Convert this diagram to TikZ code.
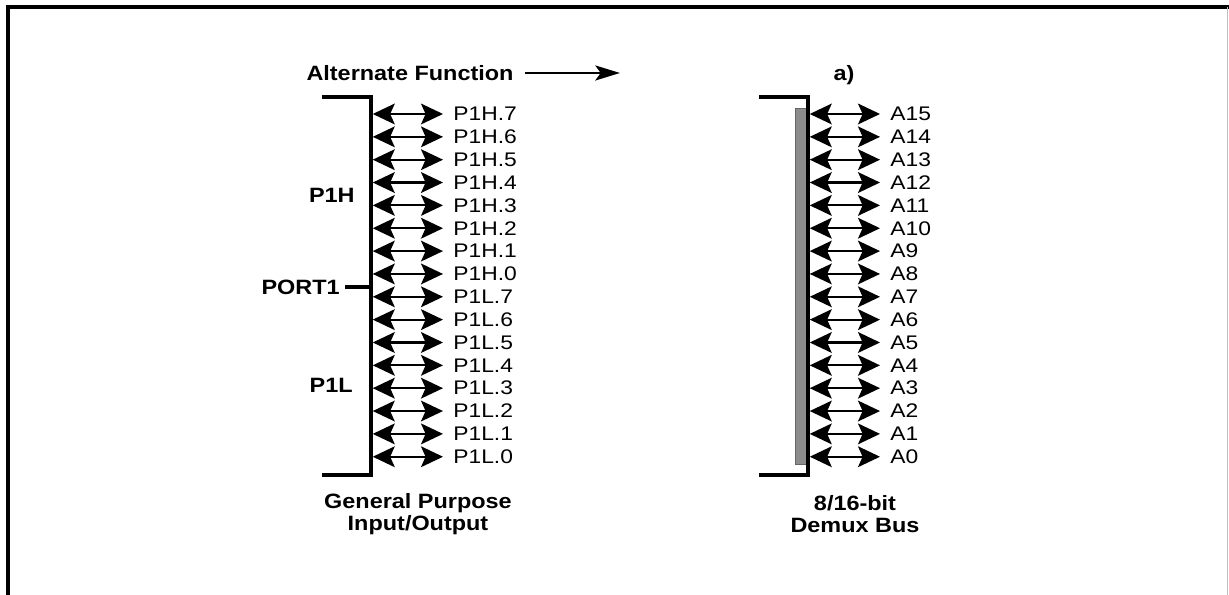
\documentclass[tikz,border=0pt]{standalone}
\usepackage{fontspec}
\setmainfont{Liberation Sans}[FakeStretch=1.16]
\newfontfamily\hdfont{Liberation Sans}[FakeStretch=1.13]
\usepackage{tikz}
\usetikzlibrary{arrows.meta,positioning,calc}

\tikzset{
  busline/.style={line width=2.3pt},
  pinarrow/.style={line width=1.2pt,
    {Stealth[length=12.5pt,width=11.8pt,inset=2.6pt]}-{Stealth[length=12.5pt,width=11.8pt,inset=2.6pt]}},
  pinlabel/.style={anchor=west,inner sep=0pt,font=\fontsize{11.2}{12}\selectfont},
  headlabel/.style={inner sep=0pt,align=center,font=\hdfont\bfseries\fontsize{11.8}{12.5}\selectfont},
}

\begin{document}
\begin{tikzpicture}
  \useasboundingbox (0,0) rectangle (24.58,11.9);

  % Frame
  \draw[line width=1.8pt] (0.16,0) -- (0.16,11.76) -- (24.58,11.76);
  \draw[black!25,line width=0.6pt] (24.55,0) -- (24.55,11.76);

  % Heading
  \node[headlabel] (alt) at (8.2,10.44) {Alternate Function};
  \coordinate (altend) at (12.4,10.44);
  \draw[line width=1.5pt,shorten <=0.22cm,-{Stealth[length=14pt,width=8.5pt,inset=3pt]}] (alt) -- (altend);
  \node[headlabel] (parta) at (16.88,10.39) {a)};

  % Brackets
  \draw[busline] (6.44,9.96) -- (7.42,9.96) -- (7.42,2.40) -- (6.44,2.40);
  \fill[black!45,draw=black!60,line width=0.5pt] (15.9,2.62) rectangle (16.12,9.74);
  \draw[busline] (15.18,9.96) -- (16.16,9.96) -- (16.16,2.40) -- (15.18,2.40);

  % Port names
  \node[headlabel,anchor=east] (p1h) at (7.1,7.99) {P1H};
  \node[headlabel,anchor=east] (p1l) at (7.06,4.2) {P1L};
  \node[headlabel,anchor=east] (port) at (6.8,6.16) {PORT1};
  \coordinate (portjoin) at (7.42,6.16);
  \draw[busline,shorten <=0.1cm] (port.east) -- (portjoin);

  % Pins
  \foreach \i in {0,...,15} {
    \pgfmathsetmacro{\y}{9.62-0.457*\i}
    \pgfmathtruncatemacro{\bit}{15-\i}
    \pgfmathtruncatemacro{\pin}{mod(15-\i,8)}
    \ifnum\i<8 \def\half{H}\else\def\half{L}\fi
    \coordinate (pl\i) at (7.42,\y);
    \coordinate (pr\i) at (16.16,\y);
    \node[pinlabel] (pin\i) at (9.06,\y) {P1\half.\pin};
    \node[pinlabel] (adr\i) at (17.8,\y) {A\bit};
    \draw[pinarrow,shorten <=1pt,shorten >=0.2cm] (pl\i) -- (pin\i.west);
    \draw[pinarrow,shorten <=1pt,shorten >=0.2cm] (pr\i) -- (adr\i.west);
  }

  % Captions
  \node[headlabel] (gpio) at (8.36,1.62) {General Purpose\\Input/Output};
  \node[headlabel] (demux) at (17.1,1.62) {8/16-bit\\Demux Bus};
\end{tikzpicture}
\end{document}
